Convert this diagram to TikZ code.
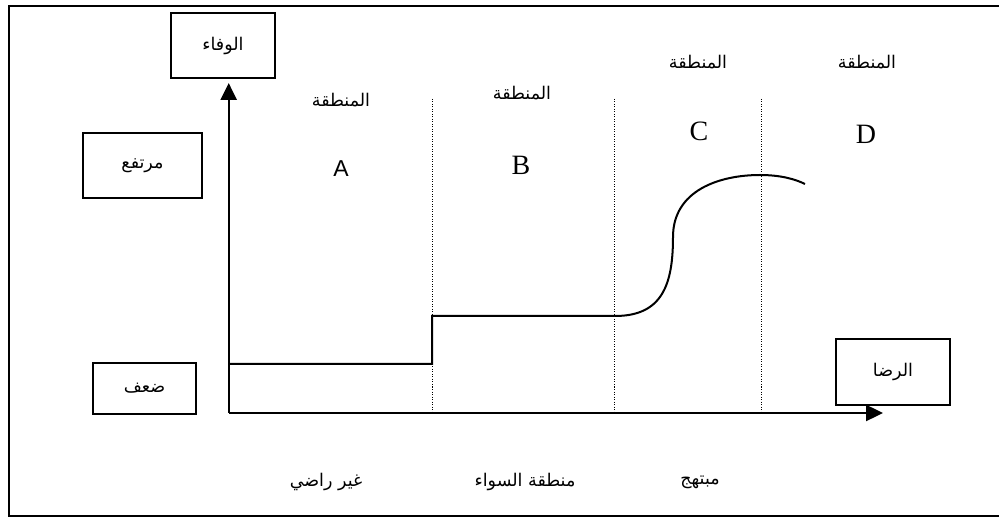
\documentclass[tikz,border=0pt]{standalone}
\usepackage{fontspec}
\setmainfont{Liberation Serif}
\newfontfamily\arabicfont[Script=Arabic]{DejaVu Sans}
\newfontfamily\latinsans{Liberation Sans}
\TeXXeTstate=1
\usetikzlibrary{arrows.meta}
\newcommand{\artxt}[1]{{\arabicfont\beginR #1\endR}}
\tikzset{
  lbox/.style={draw, line width=1.8pt, minimum width=#1, inner sep=0pt, font=\arabicfont\fontsize{17.5}{20}\selectfont},
  arlabel/.style={inner sep=0pt, font=\arabicfont\fontsize{17.5}{20}\selectfont},
  letter/.style={inner sep=0pt, font=\fontsize{28}{30}\selectfont},
  axis/.style={line width=2.4pt, -{Triangle[length=17pt,width=16pt]}},
  divider/.style={line width=1pt, dash pattern=on 1pt off 1.5pt},
  curve/.style={line width=2pt}
}
\begin{document}
\begin{tikzpicture}[x=1pt,y=-1pt]
\useasboundingbox (0,0) rectangle (999,518);
% frame
\draw[line width=2pt] (999,6) -- (8.7,6) -- (8.7,516) -- (999,516);
% boxes
\node[lbox=104pt, minimum height=65pt] (wafa) at (223,45.5) {\artxt{الوفاء}};
\node[lbox=119pt, minimum height=65pt] (high) at (142.5,165.5) {\artxt{مرتفع}};
\node[lbox=103pt, minimum height=51pt] (low) at (144.5,388.5) {\artxt{ضعف}};
\node[lbox=114pt, minimum height=66pt] (rida) at (893,372) {\artxt{الرضا}};
% axes
\coordinate (O) at (228.7,413);
\coordinate (ytop) at (228.7,83);
\coordinate (xend) at (883,413);
% dividers
\coordinate (d1t) at (432,99);  \coordinate (d1b) at (432,413);
\coordinate (d2t) at (614,99);  \coordinate (d2b) at (614,413);
\coordinate (d3t) at (761,99);  \coordinate (d3b) at (761,413);
\draw[divider] (d1t) -- (d1b);
\draw[divider] (d2t) -- (d2b);
\draw[divider] (d3t) -- (d3b);
% curve
\coordinate (c0) at (228.7,364);
\coordinate (c1) at (432,364);
\coordinate (c2) at (432,316);
\coordinate (c3) at (615,316);
\coordinate (c4) at (673,237);
\coordinate (c5) at (760,175);
\coordinate (c6) at (805,184);
\draw[curve] (c0) -- (c1) -- (c2) -- (c3)
  .. controls (662,316) and (673,285) .. (c4)
  .. controls (673,190) and (720,175) .. (c5)
  .. controls (780,175) and (795,179) .. (c6);
\draw[axis] (O) -- (ytop);
\draw[axis] (O) -- (xend);
% zone labels
\node[arlabel] (zA) at (341,100) {\artxt{المنطقة}};
\node[arlabel] (zB) at (522,93) {\artxt{المنطقة}};
\node[arlabel] (zC) at (698,62) {\artxt{المنطقة}};
\node[arlabel] (zD) at (867,62) {\artxt{المنطقة}};
\node[inner sep=0pt, font=\latinsans\fontsize{23}{25}\selectfont] (lA) at (341,169) {A};
\node[letter] (lB) at (521,165) {B};
\node[letter] (lC) at (699,131) {C};
\node[letter] (lD) at (866,134) {D};
% bottom labels
\node[arlabel] (b1) at (326,482) {\artxt{غير راضي}};
\node[arlabel] (b2) at (525,482) {\artxt{منطقة السواء}};
\node[arlabel] (b3) at (700,482) {\artxt{مبتهج}};
\end{tikzpicture}
\end{document}
